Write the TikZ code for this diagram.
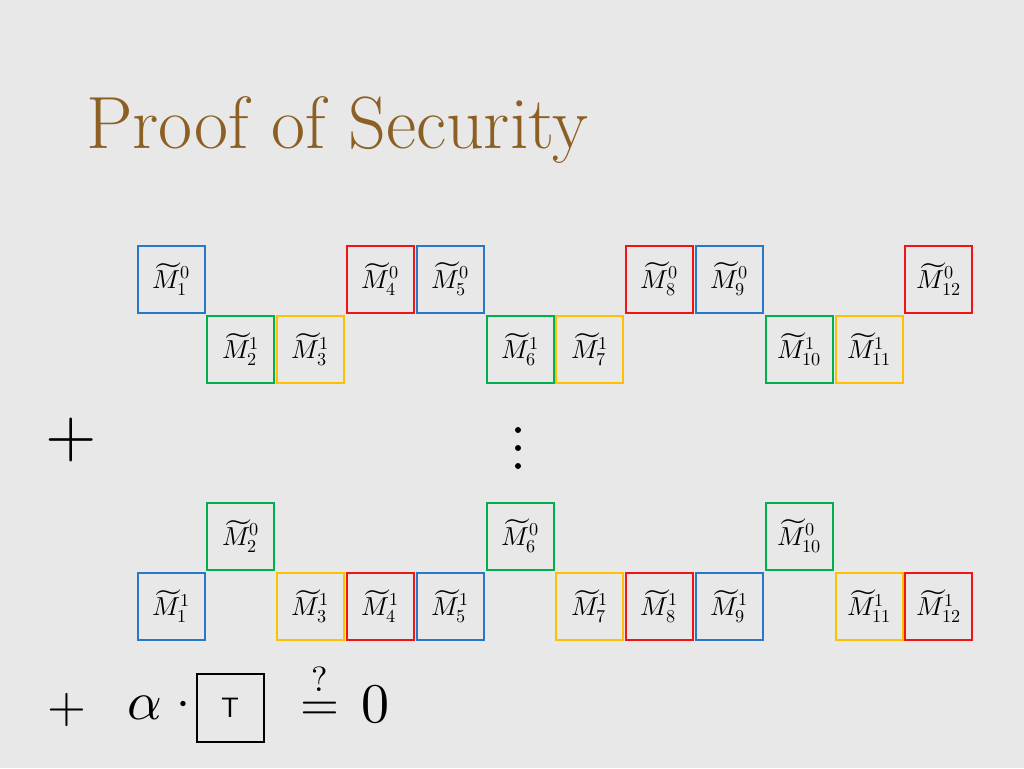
\documentclass[tikz,border=0pt]{standalone}
\usepackage{amsmath}
\usepackage{fontspec}
\usepackage{unicode-math}
\setmathfont{Latin Modern Math}
\definecolor{bgc}{HTML}{E8E8E8}
\definecolor{titlec}{RGB}{140,96,36}
\definecolor{cblue}{RGB}{40,120,200}
\definecolor{cgreen}{RGB}{0,176,80}
\definecolor{cyellow}{RGB}{255,192,0}
\definecolor{cred}{RGB}{240,20,20}
\tikzset{
  mbox/.style={draw=#1, line width=2pt, minimum width=67pt, minimum height=67pt, inner sep=0pt,
    font=\fontsize{26}{30}\selectfont},
  bigsym/.style={font=\fontsize{#1}{#1}\selectfont, inner sep=0pt},
}
\newcommand{\mlab}[2]{$\widetilde{M}^{#2}_{#1}$}
\begin{document}
\begin{tikzpicture}[x=1pt,y=-1pt]
\useasboundingbox (0,0) rectangle (1024,768);
\fill[bgc] (0,0) rectangle (1024,768);
\node[anchor=base west, text=titlec, font=\fontsize{74}{80}\selectfont, inner sep=0pt] (title) at (86,148) {Proof of Security};
% top block
\def\px{69.8}
\foreach \i/\c/\r in {1/cblue/0,4/cred/0,5/cblue/0,8/cred/0,9/cblue/0,12/cred/0}{
  \node[mbox=\c] (a\i) at ({171+(\i-1)*\px},279) {\mlab{\i}{\r}};
}
\foreach \i/\c in {2/cgreen,3/cyellow,6/cgreen,7/cyellow,10/cgreen,11/cyellow}{
  \node[mbox=\c] (b\i) at ({171+(\i-1)*\px},349.5) {\mlab{\i}{1}};
}
% bottom block
\foreach \i in {2,6,10}{
  \node[mbox=cgreen] (c\i) at ({171+(\i-1)*\px},536) {\mlab{\i}{0}};
}
\foreach \i/\c in {1/cblue,3/cyellow,4/cred,5/cblue,7/cyellow,8/cred,9/cblue,11/cyellow,12/cred}{
  \node[mbox=\c] (d\i) at ({171+(\i-1)*\px},606) {\mlab{\i}{1}};
}
% plus and dots
\node[bigsym=66] (plus1) at (71,440) {$+$};
\fill (518,430) circle (3pt) coordinate (dot1);
\fill (518,448) circle (3pt) coordinate (dot2);
\fill (518,466) circle (3pt) coordinate (dot3);
% bottom formula
\node[bigsym=50] (plus2) at (67,710) {$+$};
\node[bigsym=54] (alpha) at (145,708) {$\alpha$};
\node[bigsym=50] (cdot) at (183,709) {$\cdot$};
\node[draw=black, line width=2pt, minimum width=67pt, minimum height=68pt, inner sep=0pt, font=\sffamily\fontsize{28}{30}\selectfont] (tbox) at (230,707.5) {T};
\node[bigsym=50, anchor=base] (eq) at (320,720) {$\overset{?}{=}$};
\node[bigsym=56, anchor=base] (zero) at (375,722) {$0$};
\end{tikzpicture}
\end{document}
